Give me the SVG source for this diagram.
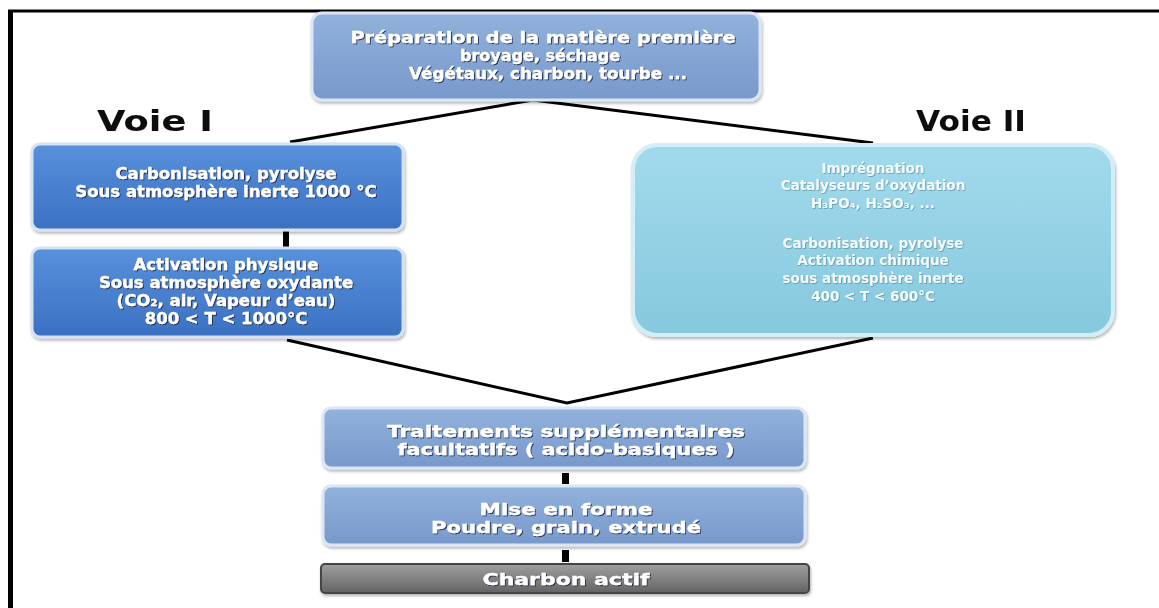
<svg xmlns="http://www.w3.org/2000/svg" width="1159" height="608" viewBox="0 0 1159 608">
<style>
.t{font-family:"DejaVu Sans","Liberation Sans",sans-serif;font-weight:bold;fill:#ffffff;stroke:#ffffff;stroke-width:0.35;text-anchor:middle;filter:url(#ts)}
.t2{font-family:"DejaVu Sans","Liberation Sans",sans-serif;font-weight:bold;fill:#f4fbfd;text-anchor:middle;filter:url(#ts2)}
.voie{font-family:"DejaVu Sans","Liberation Sans",sans-serif;font-weight:bold;fill:#111;filter:url(#blur)}
.con{stroke:#000;stroke-width:3;fill:none}
.bar{fill:#000}
</style>
<defs>
<filter id="ts" x="-5%" y="-30%" width="110%" height="160%"><feDropShadow dx="1" dy="1" stdDeviation="0.6" flood-color="#1b2b45" flood-opacity="0.9"/></filter>
<filter id="ts2" x="-5%" y="-30%" width="110%" height="160%"><feDropShadow dx="0.8" dy="0.8" stdDeviation="0.6" flood-color="#4a7f90" flood-opacity="0.7"/></filter>
<filter id="blur"><feGaussianBlur stdDeviation="0.5"/></filter>
<filter id="bs" x="-5%" y="-10%" width="110%" height="125%"><feDropShadow dx="1" dy="2" stdDeviation="1.5" flood-color="#000" flood-opacity="0.3"/></filter>
<linearGradient id="gTop" x1="0" y1="0" x2="0" y2="1"><stop offset="0" stop-color="#92b1dc"/><stop offset="1" stop-color="#7799cb"/></linearGradient>
<linearGradient id="gLeft" x1="0" y1="0" x2="0" y2="1"><stop offset="0" stop-color="#5891dc"/><stop offset="1" stop-color="#3b70c2"/></linearGradient>
<linearGradient id="gRight" x1="0" y1="0" x2="0" y2="1"><stop offset="0" stop-color="#a2daec"/><stop offset="1" stop-color="#86c8de"/></linearGradient>
<linearGradient id="gGray" x1="0" y1="0" x2="0" y2="1"><stop offset="0" stop-color="#a0a0a0"/><stop offset="1" stop-color="#636363"/></linearGradient>
</defs>
<rect width="1159" height="608" fill="#ffffff"/>
<g id="frame">
<line x1="8" y1="11" x2="1159" y2="11" stroke="#000" stroke-width="3"/>
<line x1="10.5" y1="10" x2="10.5" y2="608" stroke="#000" stroke-width="5"/>
</g>
<g id="connectors">
<polyline class="con" points="290,142 533,100 873,143"/>
<polyline class="con" points="287,340 567,403 873,338"/>
<rect class="bar" x="283" y="230" width="6" height="18"/>
<rect class="bar" x="562" y="473" width="7" height="11"/>
<rect class="bar" x="562" y="550" width="7" height="12"/>
</g>
<g id="n-prep">
<rect x="312" y="13" width="448" height="87" rx="10" fill="url(#gTop)" stroke="#dbe5f3" stroke-width="3" filter="url(#bs)"/>
<text class="t" x="543" y="43" font-size="16.5" textLength="385" lengthAdjust="spacingAndGlyphs">Préparation de la matière première</text>
<text class="t" x="540" y="61" font-size="16.5" textLength="160" lengthAdjust="spacingAndGlyphs">broyage, séchage</text>
<text class="t" x="548" y="79" font-size="16.5" textLength="278" lengthAdjust="spacingAndGlyphs">Végétaux, charbon, tourbe ...</text>
</g>
<g id="voie1"><text class="voie" x="97" y="131" font-size="28" textLength="116" lengthAdjust="spacingAndGlyphs">Voie I</text></g>
<g id="voie2"><text class="voie" x="916" y="131" font-size="28" textLength="110" lengthAdjust="spacingAndGlyphs">Voie II</text></g>
<g id="n-carbo">
<rect x="32" y="144" width="371" height="86" rx="8" fill="url(#gLeft)" stroke="#d5e2f4" stroke-width="3" filter="url(#bs)"/>
<text class="t" x="226" y="179" font-size="16.5">Carbonisation, pyrolyse</text>
<text class="t" x="226" y="197" font-size="16.5">Sous atmosphère inerte 1000 °C</text>
</g>
<g id="n-activ">
<rect x="32" y="248" width="371" height="89" rx="8" fill="url(#gLeft)" stroke="#d5e2f4" stroke-width="3" filter="url(#bs)"/>
<text class="t" x="226" y="270" font-size="16.5">Activation physique</text>
<text class="t" x="226" y="288" font-size="16.5">Sous atmosphère oxydante</text>
<text class="t" x="226" y="306" font-size="16.5">(CO₂, air, Vapeur d’eau)</text>
<text class="t" x="226" y="324" font-size="16.5">800 &lt; T &lt; 1000°C</text>
</g>
<g id="n-voie2">
<rect x="633" y="145" width="480" height="190" rx="24" fill="url(#gRight)" stroke="#d3eef6" stroke-width="4" filter="url(#bs)"/>
<text class="t2" x="873" y="173" font-size="13.5">Imprégnation</text>
<text class="t2" x="873" y="190" font-size="13.5">Catalyseurs d’oxydation</text>
<text class="t2" x="873" y="208" font-size="13.5">H₃PO₄, H₂SO₃, ...</text>
<text class="t2" x="873" y="248" font-size="13.5">Carbonisation, pyrolyse</text>
<text class="t2" x="873" y="265" font-size="13.5">Activation chimique</text>
<text class="t2" x="873" y="283" font-size="13.5">sous atmosphère inerte</text>
<text class="t2" x="873" y="301" font-size="13.5">400 &lt; T &lt; 600°C</text>
</g>
<g id="n-trait">
<rect x="323" y="408" width="482" height="60" rx="8" fill="url(#gTop)" stroke="#dbe5f3" stroke-width="3" filter="url(#bs)"/>
<text class="t" x="566" y="437" font-size="16.5" textLength="358" lengthAdjust="spacingAndGlyphs">Traitements supplémentaires</text>
<text class="t" x="566" y="455" font-size="16.5" textLength="337" lengthAdjust="spacingAndGlyphs">facultatifs ( acido-basiques )</text>
</g>
<g id="n-forme">
<rect x="323" y="486" width="482" height="59" rx="8" fill="url(#gTop)" stroke="#dbe5f3" stroke-width="3" filter="url(#bs)"/>
<text class="t" x="566" y="515" font-size="16.5" textLength="173" lengthAdjust="spacingAndGlyphs">Mise en forme</text>
<text class="t" x="566" y="533" font-size="16.5" textLength="270" lengthAdjust="spacingAndGlyphs">Poudre, grain, extrudé</text>
</g>
<g id="n-charbon">
<rect x="321" y="564" width="488" height="29" rx="4" fill="url(#gGray)" stroke="#454545" stroke-width="2" filter="url(#bs)"/>
<text class="t" x="566" y="585" font-size="16.5" textLength="167" lengthAdjust="spacingAndGlyphs">Charbon actif</text>
</g>
</svg>
